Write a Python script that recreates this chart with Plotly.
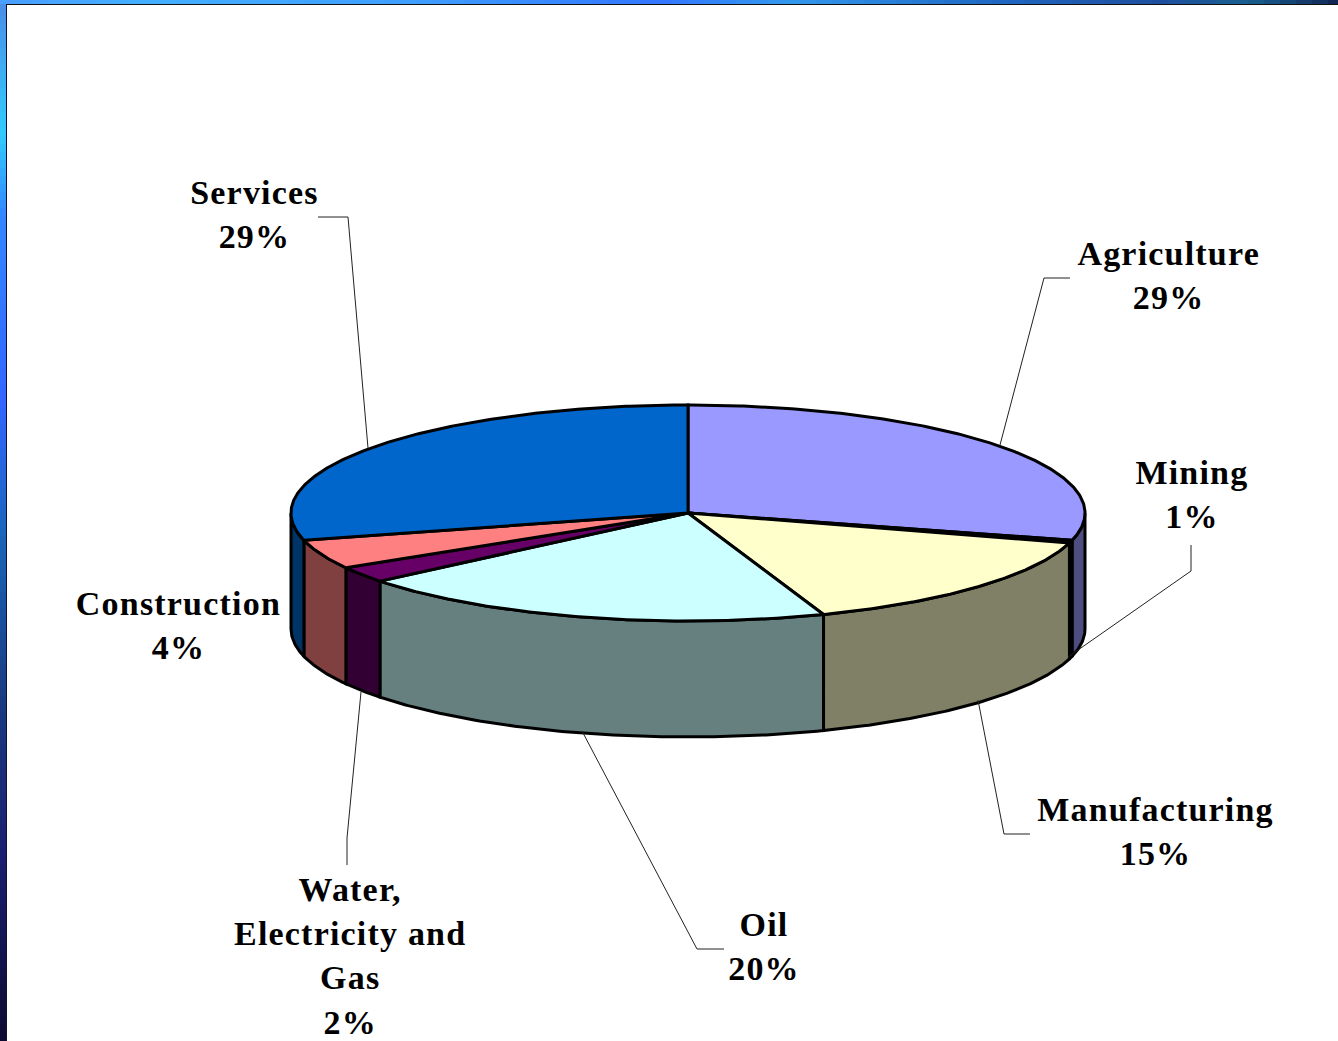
import numpy as np
import plotly.graph_objects as go

categories = ["Agriculture", "Mining", "Manufacturing", "Oil",
              "Water,<br>Electricity and<br>Gas", "Construction", "Services"]
shares = [29.1, 0.4, 15.0, 19.7, 2.4, 4.4, 29.1]
percent_labels = [29, 1, 15, 20, 2, 4, 29]
top_colors = ["#9999FF", "#000000", "#FFFFCC", "#CCFFFF", "#660066", "#FF8080", "#0066CC"]
wall_colors = ["#4D4D80", "#000000", "#808066", "#668080", "#330033", "#804040", "#003366"]
label_centers = [(1168, 275), (1192, 494), (1155, 831), (764, 946),
                 (350, 956), (178, 625), (254, 214)]
leader_x = [[1070, 1044, 1000], [1191, 1191, 1068], [1030, 1004, 978], [724, 697, 582],
            [347, 347, 361], [], [318, 348, 368]]
leader_y = [[278, 278, 445], [545, 571, 657], [834, 834, 700], [949, 949, 731],
            [865, 838, 692], [], [217, 217, 448]]

CX, CY, RX, RY, DEPTH = 688, 513, 397, 108, 116
W, H = 1338, 1041
EDGE = dict(color="#000000", width=3)

left_stops = [(0, "#4A8FE8"), (130, "#33CCFF"), (210, "#3388FF"), (400, "#3366FF"),
              (530, "#1A66BB"), (700, "#1A3A80"), (850, "#1A2070"), (1041, "#0D0A30")]
top_stops = [(0, "#4A9FFF"), (130, "#45B0FF"), (400, "#40A0FF"), (650, "#3377FF"),
             (780, "#3399EE"), (1000, "#1F66C0"), (1150, "#1F4FA0"), (1240, "#1A6090"),
             (1338, "#10204F")]


def hex_rgb(c):
    return np.array([int(c[i:i + 2], 16) for i in (1, 3, 5)], dtype=float)


def blend(stops, p):
    xs = [s[0] for s in stops]
    rgb = np.array([hex_rgb(s[1]) for s in stops])
    vals = [int(np.interp(p, xs, rgb[:, k])) for k in range(3)]
    return f"rgb({vals[0]},{vals[1]},{vals[2]})"


def arc(a0, a1, dy=0.0):
    t = np.radians(np.linspace(a0, a1, max(int(abs(a1 - a0) * 2), 2)))
    return CX + RX * np.sin(t), CY - RY * np.cos(t) + dy


fig = go.Figure()
edges = np.cumsum([0] + shares) / sum(shares) * 360

# side walls (only the front half of the rim is visible)
for i in range(len(shares)):
    a0, a1 = max(edges[i], 90), min(edges[i + 1], 270)
    if a1 <= a0:
        continue
    xt, yt = arc(a0, a1)
    xb, yb = arc(a1, a0, DEPTH)
    fig.add_trace(go.Scatter(
        x=np.r_[xt, xb, xt[0]], y=np.r_[yt, yb, yt[0]], mode="lines", fill="toself",
        fillcolor=wall_colors[i], line=EDGE, hoverinfo="skip", showlegend=False))

# top faces
for i in range(len(shares)):
    xt, yt = arc(edges[i], edges[i + 1])
    fig.add_trace(go.Scatter(
        x=np.r_[CX, xt, CX], y=np.r_[CY, yt, CY], mode="lines", fill="toself",
        fillcolor=top_colors[i], line=EDGE, hoverinfo="skip", showlegend=False,
        name=categories[i]))

# leader lines
for lx, ly in zip(leader_x, leader_y):
    if lx:
        fig.add_trace(go.Scatter(x=lx, y=ly, mode="lines", hoverinfo="skip", showlegend=False,
                                 line=dict(color="#222222", width=1)))

# labels
annotations = [
    dict(x=x, y=y, xref="x", yref="y", text=f"{c}<br>{p}%", showarrow=False,
         xanchor="center", yanchor="middle", align="center",
         font=dict(family="Liberation Serif", size=34, color="#000000", weight="bold"))
    for c, p, (x, y) in zip(categories, percent_labels, label_centers)
]

# slide frame: gradient strips on the left and top edges
shapes = []
for y0 in range(0, H, 8):
    shapes.append(dict(type="rect", xref="x", yref="y", x0=0, x1=6, y0=y0, y1=y0 + 8,
                       fillcolor=blend(left_stops, y0), line_width=0, layer="below"))
for x0 in range(0, W, 16):
    shapes.append(dict(type="rect", xref="x", yref="y", x0=x0, x1=x0 + 16, y0=0, y1=4,
                       fillcolor=blend(top_stops, x0), line_width=0, layer="below"))
shapes.append(dict(type="rect", xref="x", yref="y", x0=6, x1=W, y0=4, y1=5,
                   fillcolor="#111111", line_width=0, layer="below"))
shapes.append(dict(type="rect", xref="x", yref="y", x0=6, x1=7, y0=4, y1=H,
                   fillcolor="#111133", line_width=0, layer="below"))

fig.update_layout(
    width=W, height=H, margin=dict(l=0, r=0, t=0, b=0),
    paper_bgcolor="#FFFFFF", plot_bgcolor="#FFFFFF", showlegend=False,
    xaxis=dict(range=[0, W], visible=False, fixedrange=True),
    yaxis=dict(range=[H, 0], visible=False, fixedrange=True),
    annotations=annotations, shapes=shapes,
)

post = """
document.body.style.margin = '0';
var apply = function () {
  document.querySelectorAll('.annotation-text').forEach(function (el) {
    el.style.letterSpacing = '1.2px';
  });
};
apply();
"""
fig.write_html("out.html", post_script=post, config={"displayModeBar": False})
